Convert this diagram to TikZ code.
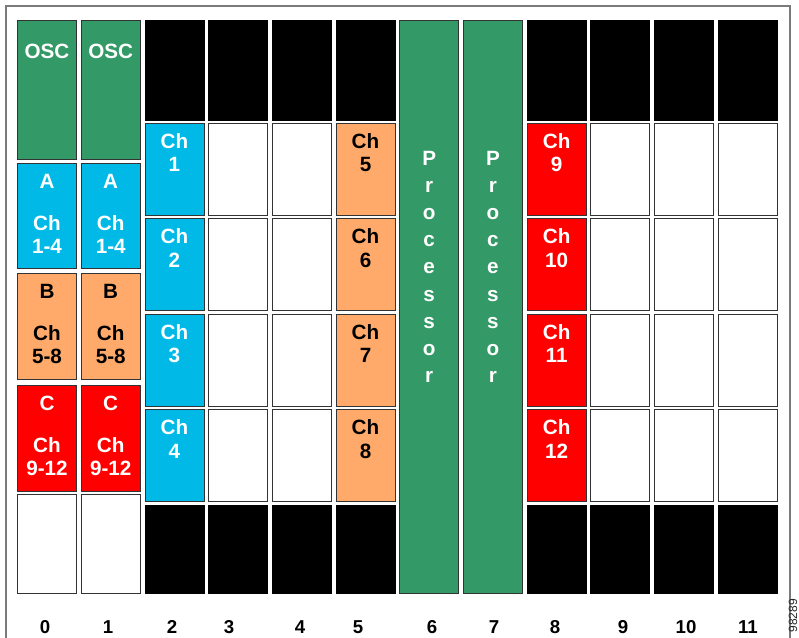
\documentclass[tikz,border=0pt]{standalone}
\usepackage{fontspec}
\setmainfont{Liberation Sans}
\usetikzlibrary{positioning}
\definecolor{OscGreen}{HTML}{339966}
\definecolor{ChBlue}{HTML}{00B9E6}
\definecolor{ChOrange}{HTML}{FFAA6B}
\definecolor{ChRed}{HTML}{FF0000}
\definecolor{Frame}{HTML}{7A7A7A}
\definecolor{Edge}{HTML}{333333}

\begin{document}
\begin{tikzpicture}[x=0.75pt,y=-0.75pt,
  slot/.style={draw=Edge,line width=0.6pt,anchor=north west,inner sep=0pt,outer sep=0pt,minimum width=44.25pt},
  blankbox/.style={slot,fill=white},
  fillerbox/.style={slot,fill=black,draw=black},
  oscbox/.style={slot,fill=OscGreen},
  procbox/.style={slot,fill=OscGreen,minimum height=429.75pt},
  chblue/.style={slot,fill=ChBlue},
  chorange/.style={slot,fill=ChOrange},
  chred/.style={slot,fill=ChRed},
  boxtxt/.style={font=\fontsize{15.5}{17.5}\selectfont\bfseries,align=center,inner sep=0pt},
  proctxt/.style={font=\fontsize{15.5}{20.4}\selectfont\bfseries,align=center,inner sep=0pt,text=white},
  numtxt/.style={font=\fontsize{14}{16}\selectfont\bfseries,inner sep=0pt}
]
\useasboundingbox (0,0) rectangle (799,638);
% chassis frame, open at the bottom edge
\draw[Frame,line width=1.1pt] (6,6) rectangle (790,660);

% slots 0 and 1
\foreach \c in {0,1} {
  \pgfmathsetmacro\xl{17.5+63.7*\c}
  \node[oscbox,minimum height=104.25pt] (osc\c) at (\xl,20) {};
  \node[boxtxt,text=white,below=17.5pt of osc\c.north] (osc\c-lbl) {OSC};
  \node[chblue,minimum height=78.75pt] (grpA\c) at (\xl,163) {};
  \node[boxtxt,text=white,below=8pt of grpA\c.north] (grpA\c-lbl) {A\\[14pt]Ch\\1-4};
  \node[chorange,minimum height=79.5pt] (grpB\c) at (\xl,273) {};
  \node[boxtxt,text=black,below=8pt of grpB\c.north] (grpB\c-lbl) {B\\[14pt]Ch\\5-8};
  \node[chred,minimum height=79.5pt] (grpC\c) at (\xl,385) {};
  \node[boxtxt,text=white,below=8pt of grpC\c.north] (grpC\c-lbl) {C\\[14pt]Ch\\9-12};
  \node[blankbox,minimum height=74.25pt] (spare\c) at (\xl,494) {};
}

% fillers top and bottom
\foreach \c in {2,3,4,5,8,9,10,11} {
  \pgfmathsetmacro\xl{17.5+63.7*\c}
  \node[fillerbox,minimum height=75pt] (top\c) at (\xl,20) {};
  \node[fillerbox,minimum height=66pt] (bot\c) at (\xl,505) {};
}

% empty slots
\foreach \c in {3,4,9,10,11} {
  \foreach \r in {1,...,4} {
    \pgfmathsetmacro\xl{17.5+63.7*\c}
    \pgfmathsetmacro\yt{123+95.5*(\r-1)}
    \node[blankbox,minimum height=69pt] (s\c-\r) at (\xl,\yt) {};
  }
}

% channel cards
\foreach \c/\s/\n/\t in {2/chblue/0/white,5/chorange/4/black,8/chred/8/white} {
  \foreach \r in {1,...,4} {
    \pgfmathsetmacro\xl{17.5+63.7*\c}
    \pgfmathsetmacro\yt{123+95.5*(\r-1)}
    \pgfmathtruncatemacro\ch{\n+\r}
    \node[\s,minimum height=69pt] (ch\ch) at (\xl,\yt) {};
    \node[boxtxt,text=\t,below=7.5pt of ch\ch.north] (ch\ch-lbl) {Ch\\\ch};
  }
}

% processors
\foreach \c in {6,7} {
  \pgfmathsetmacro\xl{17.5+63.7*\c}
  \node[procbox] (proc\c) at (\xl,20) {};
  \node[proctxt,below=98pt of proc\c.north] (proc\c-lbl) {P\\r\\o\\c\\e\\s\\s\\o\\r};
}

% slot numbers
\foreach \i/\x in {0/45,1/108,2/172,3/229,4/300,5/358,6/432,7/494,8/555,9/623,10/686,11/748} {
  \node[numtxt] (num\i) at (\x,627) {\i};
}

\node[rotate=90,anchor=east,font=\fontsize{9}{10}\selectfont,text=black!85,inner sep=0pt] (figid) at (793,599) {98289};
\end{tikzpicture}
\end{document}
